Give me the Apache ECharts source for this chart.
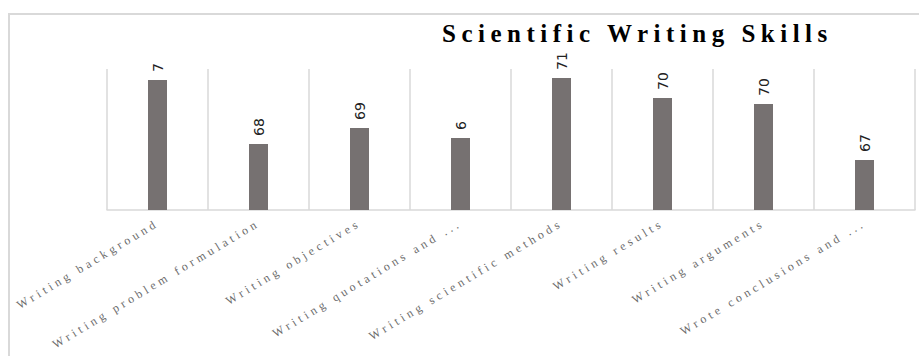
<!DOCTYPE html>
<html>
<head>
<meta charset="utf-8">
<script src="https://cdn.jsdelivr.net/npm/echarts@6/dist/echarts.min.js"></script>
<style>
  html, body { margin: 0; padding: 0; background: #fff; }
  #chart { width: 919px; height: 356px; }
</style>
</head>
<body>
<div id="chart"></div>
<script>
// Chart content
const titleText = 'Scientific Writing Skills';
const categories = [
  'Writing background',
  'Writing problem formulation',
  'Writing objectives',
  'Writing quotations and ...',
  'Writing scientific methods',
  'Writing results',
  'Writing arguments',
  'Wrote conclusions and ...'
];
const scores = [71.0, 67.8, 68.6, 68.1, 71.1, 70.1, 69.8, 67.0];
const scoreLabels = ['7', '68', '69', '6', '71', '70', '70', '67'];
const valueRange = [64.5, 71.55];

const chart = echarts.init(document.getElementById('chart'), null, { renderer: 'svg' });

chart.setOption({
  animation: false,
  backgroundColor: '#fff',
  title: {
    text: titleText,
    left: 437,
    top: 16,
    textStyle: {
      fontFamily: 'Liberation Serif',
      fontWeight: 'bold',
      fontSize: 25,
      color: '#000'
    }
  },
  graphic: [{
    type: 'rect',
    silent: true,
    z: -10,
    shape: { x: 9, y: 14, width: 940, height: 380 },
    style: { fill: 'none', stroke: '#d9d9d9', lineWidth: 2 }
  }],
  grid: { left: 107, right: 4, top: 69, bottom: 146 },
  xAxis: {
    type: 'category',
    data: categories,
    axisTick: { show: false },
    axisLine: { lineStyle: { color: '#d9d9d9', width: 1.5 } },
    splitLine: { show: true, interval: 0, lineStyle: { color: '#d9d9d9', width: 1.5 } },
    axisLabel: {
      interval: 0,
      rotate: 31,
      margin: 12,
      fontFamily: 'Liberation Serif',
      fontSize: 12,
      color: '#6a6a6a'
    }
  },
  yAxis: {
    type: 'value',
    show: false,
    min: valueRange[0],
    max: valueRange[1],
    splitLine: { show: false }
  },
  series: [{
    type: 'bar',
    data: scores,
    barWidth: 19,
    itemStyle: { color: '#767171' },
    label: {
      show: true,
      position: 'top',
      distance: 8,
      rotate: 90,
      align: 'left',
      verticalAlign: 'middle',
      fontFamily: 'DejaVu Sans',
      fontSize: 14,
      color: '#222',
      formatter: p => scoreLabels[p.dataIndex]
    }
  }]
});

// Tracked-out lettering for the title and category names
function spaceLetters() {
  document.querySelectorAll('#chart svg text').forEach(t => {
    const s = t.textContent;
    if (s === titleText) t.setAttribute('letter-spacing', '5.5');
    else if (categories.indexOf(s) >= 0) t.setAttribute('letter-spacing', '3.7');
  });
}
chart.on('finished', spaceLetters);
spaceLetters();
</script>
</body>
</html>
